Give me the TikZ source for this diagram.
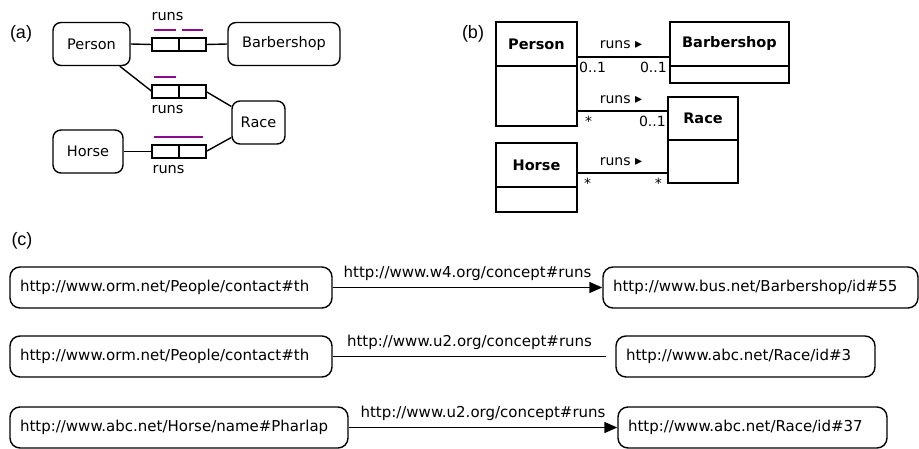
\documentclass[tikz,border=0pt]{standalone}
\usepackage{fontspec}
\setmainfont{DejaVu Sans}
\newfontfamily\panelfont{Liberation Sans}
\usetikzlibrary{positioning, arrows.meta, calc}
\definecolor{uniq}{RGB}{140,10,140}

\begin{document}
\begin{tikzpicture}[
    x=1pt, y=1pt,
    ent/.style     = {draw, rounded corners=8pt, line width=1.4pt, minimum height=43pt, inner sep=0pt, font=\fontsize{14.5}{17}\selectfont},
    role/.style    = {draw, line width=1.4pt, minimum width=27pt, minimum height=13pt, inner sep=0pt, outer sep=0pt},
    ubar/.style    = {draw=uniq, line width=2pt},
    lab/.style     = {inner sep=0pt, font=\fontsize{14.5}{17}\selectfont},
    clshead/.style = {draw, line width=2.2pt, outer sep=0pt, inner sep=0pt, minimum width=81pt, font=\bfseries\fontsize{14.5}{17}\selectfont},
    clsbody/.style = {draw, line width=2.2pt, outer sep=0pt, inner sep=0pt},
    small/.style   = {inner sep=0pt, font=\fontsize{14}{16}\selectfont},
    uri/.style     = {draw, rounded corners=10pt, line width=1.4pt, minimum height=41pt, inner xsep=10pt, align=left, font=\fontsize{15}{18}\selectfont},
    conn/.style    = {line width=1.4pt},
    arrow/.style   = {line width=1.4pt, -{Triangle[length=13pt, width=11pt]}},
    panel/.style   = {inner sep=0pt, font=\panelfont\fontsize{18}{20}\selectfont}
]
\useasboundingbox (0,0) rectangle (919,448);

% (a) ORM schema
\node[panel] (pa) at (21,414) {(a)};
\node[ent, minimum width=77pt]  (Person) at (91.5,404)  {Person};
\node[ent, minimum width=112pt] (Barber) at (284,404)   {Barbershop};
\node[ent, minimum width=53pt]  (Race)   at (258.5,325.5) {Race};
\node[ent, minimum width=70pt]  (Horse)  at (88,296.5)  {Horse};

\node[role] (f1a) at (165.5,403.5) {};
\node[role, right=0pt of f1a] (f1b) {};
\node[role] (f2a) at (165.5,356.5) {};
\node[role, right=0pt of f2a] (f2b) {};
\node[role] (f3a) at (165.5,296.5) {};
\node[role, right=0pt of f3a] (f3b) {};

\node[lab, above=17pt of f1a, xshift=2pt] (r1) {runs};
\node[lab, below=7pt of f2a, xshift=2pt]  (r2) {runs};
\node[lab, below=7pt of f3a, xshift=3pt]  (r3) {runs};

% uniqueness
\draw[ubar] ([xshift=2pt, yshift=7.5pt]f1a.north west) -- ([xshift=-3pt, yshift=7.5pt]f1a.north east);
\draw[ubar] ([xshift=3pt, yshift=7.5pt]f1b.north west) -- ([xshift=-3pt, yshift=7.5pt]f1b.north east);
\draw[ubar] ([xshift=2pt, yshift=7.5pt]f2a.north west) -- ([xshift=-3pt, yshift=7.5pt]f2a.north east);
\draw[ubar] ([xshift=2pt, yshift=7.5pt]f3a.north west) -- ([xshift=-3pt, yshift=7.5pt]f3b.north east);

\draw[conn] (Person.east) -- (f1a.west);
\draw[conn] (f1b.east)    -- (Barber.west);
\draw[conn] (Person)      -- (f2a.west);
\draw[conn] (f2b.east)    -- (Race);
\draw[conn] (Horse.east)  -- (f3a.west);
\draw[conn] (f3b.east)    -- (Race);

% (b) UML classes
\node[panel] (pb) at (473,414) {(b)};
\node[clshead, minimum height=44pt] (personH) at (536.5,404) {Person};
\node[clsbody, below=0pt of personH, minimum width=81pt, minimum height=60pt] (personB) {};
\node[clshead, minimum width=119pt, minimum height=44pt] (barbH) at (729.5,404) {Barbershop};
\node[clsbody, below=0pt of barbH, minimum width=119pt, minimum height=17pt] (barbB) {};
\node[clshead, minimum width=70pt, minimum height=43pt] (raceH) at (703,329.5) {Race};
\node[clsbody, below=0pt of raceH, minimum width=70pt, minimum height=43pt] (raceB) {};
\node[clshead, minimum height=44pt] (horseH) at (536.5,283) {Horse};
\node[clsbody, below=0pt of horseH, minimum width=81pt, minimum height=25pt] (horseB) {};

\coordinate (a1) at ($(personH.east)+(0,-13)$);
\coordinate (a2) at ($(personB.east)+(0,-15)$);
\coordinate (a3) at ($(horseH.east)+(0,-8)$);
\draw[conn] (a1) -- (a1 -| barbH.west);
\draw[conn] (a2) -- (a2 -| raceH.west);
\draw[conn] (a3) -- (a3 -| raceB.west);

\node[small] (n1) at (621,403) {runs ▸};
\node[small] (n2) at (621,348) {runs ▸};
\node[small] (n3) at (621,286) {runs ▸};
\node[small, anchor=north west] (m1a) at ([xshift=2pt, yshift=-5pt]a1) {0..1};
\node[small, anchor=north east] (m1b) at ([xshift=-3pt, yshift=-5pt]a1 -| barbH.west) {0..1};
\node[small, anchor=north west] (m2a) at ([xshift=8pt, yshift=-5pt]a2) {*};
\node[small, anchor=north east] (m2b) at ([xshift=-2pt, yshift=-5pt]a2 -| raceH.west) {0..1};
\node[small, anchor=north west] (m3a) at ([xshift=7pt, yshift=-5pt]a3) {*};
\node[small, anchor=north east] (m3b) at ([xshift=-6pt, yshift=-5pt]a3 -| raceB.west) {*};

% (c) RDF triples
\node[panel] (pc) at (22,207) {(c)};
\node[uri, text width=302pt] (U1) at (171,160.5) {http://www.orm.net/People/contact\#th};
\node[uri, text width=295pt] (T1) at (760.5,160.5) {http://www.bus.net/Barbershop/id\#55};
\node[uri, text width=302pt] (U2) at (171,91.5)  {http://www.orm.net/People/contact\#th};
\node[uri, text width=239pt] (T2) at (745.5,91.5) {http://www.abc.net/Race/id\#3};
\node[uri, text width=318pt] (U3) at (179,20.5)  {http://www.abc.net/Horse/name\#Pharlap};
\node[uri, text width=249pt] (T3) at (752.5,20.5) {http://www.abc.net/Race/id\#37};

\coordinate (e2) at ([xshift=-9pt]T2.west);
\draw[arrow] (U1.east) -- node[above=6pt, lab, font=\fontsize{15}{18}\selectfont]{http://www.w4.org/concept\#runs} (T1.west);
\draw[conn]  (U2.east) -- node[above=6pt, lab, font=\fontsize{15}{18}\selectfont]{http://www.u2.org/concept\#runs} (e2);
\draw[arrow] (U3.east) -- node[above=6pt, lab, font=\fontsize{15}{18}\selectfont]{http://www.u2.org/concept\#runs} (T3.west);

\end{tikzpicture}
\end{document}
